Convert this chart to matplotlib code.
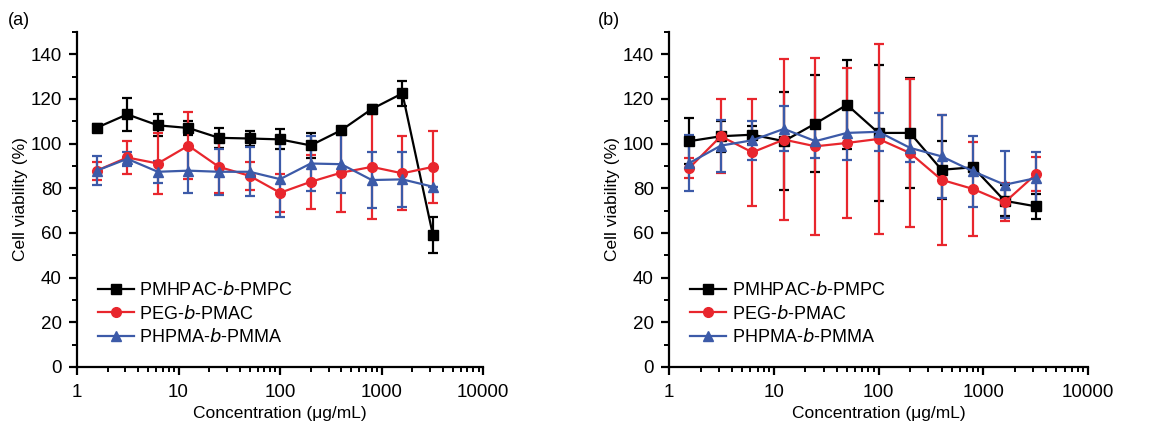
import matplotlib
matplotlib.use('Agg')
import matplotlib.pyplot as plt
from matplotlib.ticker import MultipleLocator, LogLocator, NullFormatter

plt.rcParams['font.family'] = ['Liberation Sans', 'DejaVu Sans']

# concentrations (ug/mL)
conc = [1.5625, 3.125, 6.25, 12.5, 25, 50, 100, 200, 400, 800, 1600, 3200]
names = ['PMHPAC-$\\it{b}$-PMPC', 'PEG-$\\it{b}$-PMAC', 'PHPMA-$\\it{b}$-PMMA']

# panel (a)
a_black = [107.1, 113.1, 108.2, 107.0, 102.6, 102.3, 101.9, 99.2, 106.0, 115.5, 122.5, 59.0]
a_black_err = [1.5, 7.5, 5.0, 3.0, 4.5, 3.5, 4.5, 5.5, 1.0, 2.0, 5.5, 8.0]
a_red = [87.9, 93.8, 91.1, 99.1, 89.6, 85.6, 78.0, 82.9, 87.0, 89.6, 86.7, 89.6]
a_red_err = [4.0, 7.3, 13.5, 15.0, 11.8, 6.3, 8.5, 12.0, 17.5, 23.5, 16.5, 16.0]
a_blue = [87.9, 93.2, 87.4, 87.9, 87.4, 87.4, 84.1, 91.1, 90.8, 83.7, 84.0, 80.7]
a_blue_err = [6.5, 3.0, 5.0, 10.0, 10.3, 11.0, 17.0, 12.5, 13.0, 12.7, 12.3, 0.0]

# panel (b)
b_black = [101.1, 103.3, 104.0, 101.1, 109.0, 117.4, 104.8, 104.8, 88.3, 89.4, 74.4, 71.9]
b_black_err = [10.3, 7.0, 4.0, 22.0, 21.7, 20.0, 30.3, 24.7, 13.0, 1.5, 7.0, 5.5]
b_red = [89.1, 103.3, 96.1, 101.8, 98.8, 100.3, 102.1, 95.8, 83.8, 79.7, 73.7, 86.4]
b_red_err = [4.5, 16.5, 23.8, 36.0, 39.5, 33.7, 42.5, 33.0, 29.0, 21.0, 8.5, 7.5]
b_blue = [91.3, 99.1, 101.5, 106.6, 101.1, 104.8, 105.3, 98.1, 94.3, 87.6, 81.6, 84.6]
b_blue_err = [12.7, 11.6, 8.7, 10.1, 7.7, 12.0, 8.5, 6.5, 18.5, 16.0, 15.0, 11.7]

colors = ['black', '#e8262d', '#3c5aa8']
markers = ['s', 'o', '^']


def draw_panel(ax, series, label):
    handles = []
    for (vals, errs), name, c, m in zip(series, names, colors, markers):
        cont = ax.errorbar(conc, vals, yerr=errs, color=c, marker=m,
                           markersize=7, linewidth=1.6, elinewidth=1.6,
                           capsize=3.5, capthick=1.6, label=name)
        handles.append(cont.lines[0])
    ax.set_xscale('log')
    ax.set_xlim(1, 10000)
    ax.set_ylim(0, 150)
    ax.set_xticks([1, 10, 100, 1000, 10000])
    ax.set_xticklabels(['1', '10', '100', '1000', '10000'])
    ax.xaxis.set_minor_locator(LogLocator(base=10, subs=range(2, 10)))
    ax.xaxis.set_minor_formatter(NullFormatter())
    ax.set_yticks(range(0, 141, 20))
    ax.yaxis.set_minor_locator(MultipleLocator(10))
    for s in ['top', 'right']:
        ax.spines[s].set_visible(False)
    for s in ['left', 'bottom']:
        ax.spines[s].set_linewidth(1.6)
    ax.tick_params(which='major', length=6, width=1.6, labelsize=13.5)
    ax.tick_params(axis='y', which='major', pad=5)
    ax.tick_params(axis='x', which='major', pad=6)
    ax.tick_params(which='minor', length=3.5, width=1.4)
    ax.set_xlabel('Concentration (\u03bcg/mL)', fontsize=12.5, labelpad=4)
    ax.set_ylabel('Cell viability (%)', fontsize=12.5, labelpad=2)
    ax.legend(handles, names, loc='lower left', bbox_to_anchor=(0.02, 0.025),
              frameon=False, fontsize=13, handlelength=2.0,
              handletextpad=0.3, labelspacing=0.3, borderpad=0.2)
    ax.text(-0.17, 1.033, label, transform=ax.transAxes, fontsize=13,
            va='center', ha='left')


fig = plt.figure(figsize=(11.56, 4.26), dpi=100)
ax1 = fig.add_axes([0.0666, 0.1385, 0.3514, 0.7865])
ax2 = fig.add_axes([0.5787, 0.1385, 0.3625, 0.7865])

draw_panel(ax1, [(a_black, a_black_err), (a_red, a_red_err),
                 (a_blue, a_blue_err)], '(a)')
draw_panel(ax2, [(b_black, b_black_err), (b_red, b_red_err),
                 (b_blue, b_blue_err)], '(b)')

fig.savefig('out.png', dpi=100)
